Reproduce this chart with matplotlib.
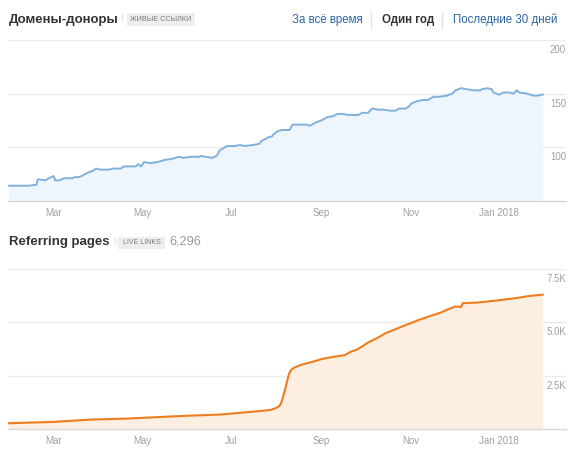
import matplotlib
matplotlib.use("Agg")
import matplotlib.pyplot as plt
import matplotlib.dates as mdates
import numpy as np
import pandas as pd

plt.rcParams['font.family'] = ['Liberation Sans', 'DejaVu Sans']

# ---------------- data ----------------
domains_dates = ["2017-01-29", "2017-02-12", "2017-02-17", "2017-02-18", "2017-02-23", "2017-02-27",
                 "2017-03-01", "2017-03-02", "2017-03-05", "2017-03-08", "2017-03-14", "2017-03-15",
                 "2017-03-18", "2017-03-20", "2017-03-24", "2017-03-28", "2017-03-30", "2017-04-02",
                 "2017-04-08", "2017-04-11", "2017-04-16", "2017-04-18", "2017-04-26", "2017-04-28",
                 "2017-04-30", "2017-05-02", "2017-05-03", "2017-05-06", "2017-05-11", "2017-05-16",
                 "2017-05-21", "2017-05-26", "2017-05-29", "2017-06-03", "2017-06-09", "2017-06-10",
                 "2017-06-13", "2017-06-18", "2017-06-21", "2017-06-23", "2017-06-28", "2017-07-03",
                 "2017-07-07", "2017-07-10", "2017-07-16", "2017-07-20", "2017-07-22", "2017-07-25",
                 "2017-07-26", "2017-07-29", "2017-07-30", "2017-08-02", "2017-08-05", "2017-08-10",
                 "2017-08-12", "2017-08-18", "2017-08-22", "2017-08-24", "2017-08-28", "2017-09-01",
                 "2017-09-05", "2017-09-09", "2017-09-12", "2017-09-16", "2017-09-19", "2017-09-21",
                 "2017-09-24", "2017-09-26", "2017-09-29", "2017-10-03", "2017-10-05", "2017-10-06",
                 "2017-10-10", "2017-10-14", "2017-10-18", "2017-10-22", "2017-10-24", "2017-10-29",
                 "2017-10-31", "2017-11-02", "2017-11-06", "2017-11-10", "2017-11-13", "2017-11-17",
                 "2017-11-21", "2017-11-26", "2017-11-30", "2017-12-02", "2017-12-06", "2017-12-10",
                 "2017-12-15", "2017-12-19", "2017-12-20", "2017-12-24", "2017-12-27", "2017-12-28",
                 "2018-01-01", "2018-01-04", "2018-01-08", "2018-01-11", "2018-01-13", "2018-01-15",
                 "2018-01-20", "2018-01-25", "2018-01-27", "2018-01-31"]
domains_values = [64, 64, 65, 70, 69, 72,
                  73, 69, 69, 71, 71, 72,
                  72, 73, 76, 78, 80, 79,
                  79, 80, 80, 82, 82, 84,
                  82, 86, 86, 85, 86, 88,
                  89, 91, 90, 91, 91, 92,
                  91, 90, 92, 97, 101, 101,
                  102, 101, 102, 103, 106, 108,
                  109, 110, 112, 115, 116, 116,
                  121, 121, 121, 120, 123, 125,
                  128, 129, 131, 131, 130, 130,
                  130, 130, 132, 132, 135, 136,
                  135, 135, 134, 134, 136, 136,
                  138, 141, 143, 144, 144, 147,
                  147, 148, 150, 153, 155, 154,
                  153, 153, 154, 155, 154, 151,
                  149, 151, 151, 150, 153, 151,
                  150, 148, 148, 149]

pages_dates = ["2017-01-29", "2017-03-01", "2017-03-26", "2017-04-21", "2017-05-29", "2017-06-23",
               "2017-07-01", "2017-07-19", "2017-07-28", "2017-08-01", "2017-08-03", "2017-08-04",
               "2017-08-05", "2017-08-06", "2017-08-07", "2017-08-08", "2017-08-09", "2017-08-10",
               "2017-08-11", "2017-08-13", "2017-08-18", "2017-08-26", "2017-09-01", "2017-09-07",
               "2017-09-17", "2017-09-21", "2017-09-25", "2017-09-29", "2017-10-03", "2017-10-10",
               "2017-10-15", "2017-10-23", "2017-10-31", "2017-11-07", "2017-11-15", "2017-11-22",
               "2017-11-27", "2017-12-02", "2017-12-06", "2017-12-07", "2017-12-17", "2017-12-30",
               "2018-01-12", "2018-01-22", "2018-01-31"]
pages_values = [270, 333, 442, 490, 614, 676,
                722, 832, 894, 990, 1080, 1180,
                1380, 1620, 1870, 2150, 2430, 2640,
                2760, 2870, 3013, 3153, 3278, 3356,
                3465, 3620, 3714, 3870, 4057, 4291,
                4493, 4711, 4930, 5116, 5303, 5459,
                5615, 5740, 5724, 5896, 5927, 6020,
                6129, 6238, 6296]

month_ticks = ["2017-03-01", "2017-05-01", "2017-07-01", "2017-09-01", "2017-11-01", "2018-01-01"]
month_labels = ["Mar", "May", "Jul", "Sep", "Nov", "Jan 2018"]

top_yticks = [100, 150, 200]
top_ylabels = ["100", "150", "200"]
bot_yticks = [2500, 5000, 7500]
bot_ylabels = ["2.5K", "5.0K", "7.5K"]

# ---------------- figure ----------------
W, H = 576, 455
fig = plt.figure(figsize=(W / 100, H / 100), dpi=100)

def fx(px):
    return px / W

def fy(py):
    return 1 - py / H

xlim = (pd.Timestamp("2017-01-28 12:00"), pd.Timestamp("2018-02-16"))
tick_dates = pd.to_datetime(month_ticks)

def style_axes(ax, yticks, ylabels, ylim):
    ax.set_xlim(xlim)
    ax.set_ylim(ylim)
    for s in ["top", "left", "right"]:
        ax.spines[s].set_visible(False)
    ax.spines["bottom"].set_color("#d8d8d8")
    ax.spines["bottom"].set_linewidth(1)
    ax.set_yticks(yticks)
    ax.set_yticklabels([])
    ax.tick_params(axis="y", length=0)
    ax.grid(axis="y", color="#ebebeb", linewidth=1)
    ax.set_axisbelow(True)
    ax.set_xticks(tick_dates)
    ax.set_xticklabels(month_labels, fontsize=7, color="#a0a0a0")
    ax.tick_params(axis="x", direction="in", length=5, color="#d8d8d8", pad=5)
    for v, lab in zip(yticks, ylabels):
        ax.annotate(lab, xy=(1, v), xycoords=("axes fraction", "data"),
                    xytext=(0, -10), textcoords="offset pixels",
                    ha="right", va="center", fontsize=7, color="#a0a0a0")

# top chart
ax1 = fig.add_axes([fx(8), fy(200.7), fx(558), 160.7 / H])
d1 = pd.to_datetime(domains_dates)
ax1.fill_between(d1, domains_values, 50, color="#eef5fc", linewidth=0, zorder=2)
ax1.plot(d1, domains_values, color="#7fb1dc", linewidth=1.4, zorder=3)
style_axes(ax1, top_yticks, top_ylabels, (50, 200))

# bottom chart
ax2 = fig.add_axes([fx(8), fy(429), fx(558), 160 / H])
d2 = pd.to_datetime(pages_dates)
ax2.fill_between(d2, pages_values, 0, color="#fdeee2", linewidth=0, zorder=2)
ax2.plot(d2, pages_values, color="#ee7d1f", linewidth=1.5, zorder=3)
style_axes(ax2, bot_yticks, bot_ylabels, (0, 7500))

# ---------------- headers ----------------
def badge(x0, x1, y0, y1, text, fs):
    fig.patches.append(plt.Rectangle((fx(x0), fy(y1)), fx(x1 - x0), (y1 - y0) / H,
                                     transform=fig.transFigure, color="#eeeeee",
                                     linewidth=0))
    fig.text(fx((x0 + x1) / 2), fy((y0 + y1) / 2), text, ha="center", va="center",
             fontsize=fs, color="#7a7a7a")

def vsep(x, y0, y1):
    fig.add_artist(plt.Line2D([fx(x), fx(x)], [fy(y0), fy(y1)], transform=fig.transFigure,
                              color="#e2e2e2", linewidth=1))

fig.text(fx(9), fy(19.5), "Домены-доноры", fontsize=9.5, fontweight="bold",
         color="#333333", ha="left", va="center")
vsep(121.5, 14, 20)
badge(127, 195, 13, 26, "ЖИВЫЕ ССЫЛКИ", 5.2)

fig.text(fx(292), fy(20), "За всё время", fontsize=8.3, color="#2a64a3", ha="left", va="center")
vsep(371, 12, 28)
fig.text(fx(382), fy(20), "Один год", fontsize=8.3, fontweight="bold", color="#333333",
         ha="left", va="center")
vsep(442, 12, 28)
fig.text(fx(453), fy(20), "Последние 30 дней", fontsize=8.3, color="#2a64a3",
         ha="left", va="center")

fig.text(fx(9), fy(242), "Referring pages", fontsize=9.5, fontweight="bold",
         color="#333333", ha="left", va="center")
vsep(114.5, 237, 243)
badge(118, 165, 237, 249, "LIVE LINKS", 5.0)
fig.text(fx(169), fy(242), "6,296", fontsize=9.2, color="#999999", ha="left", va="center")

fig.savefig("out.png", dpi=100)
